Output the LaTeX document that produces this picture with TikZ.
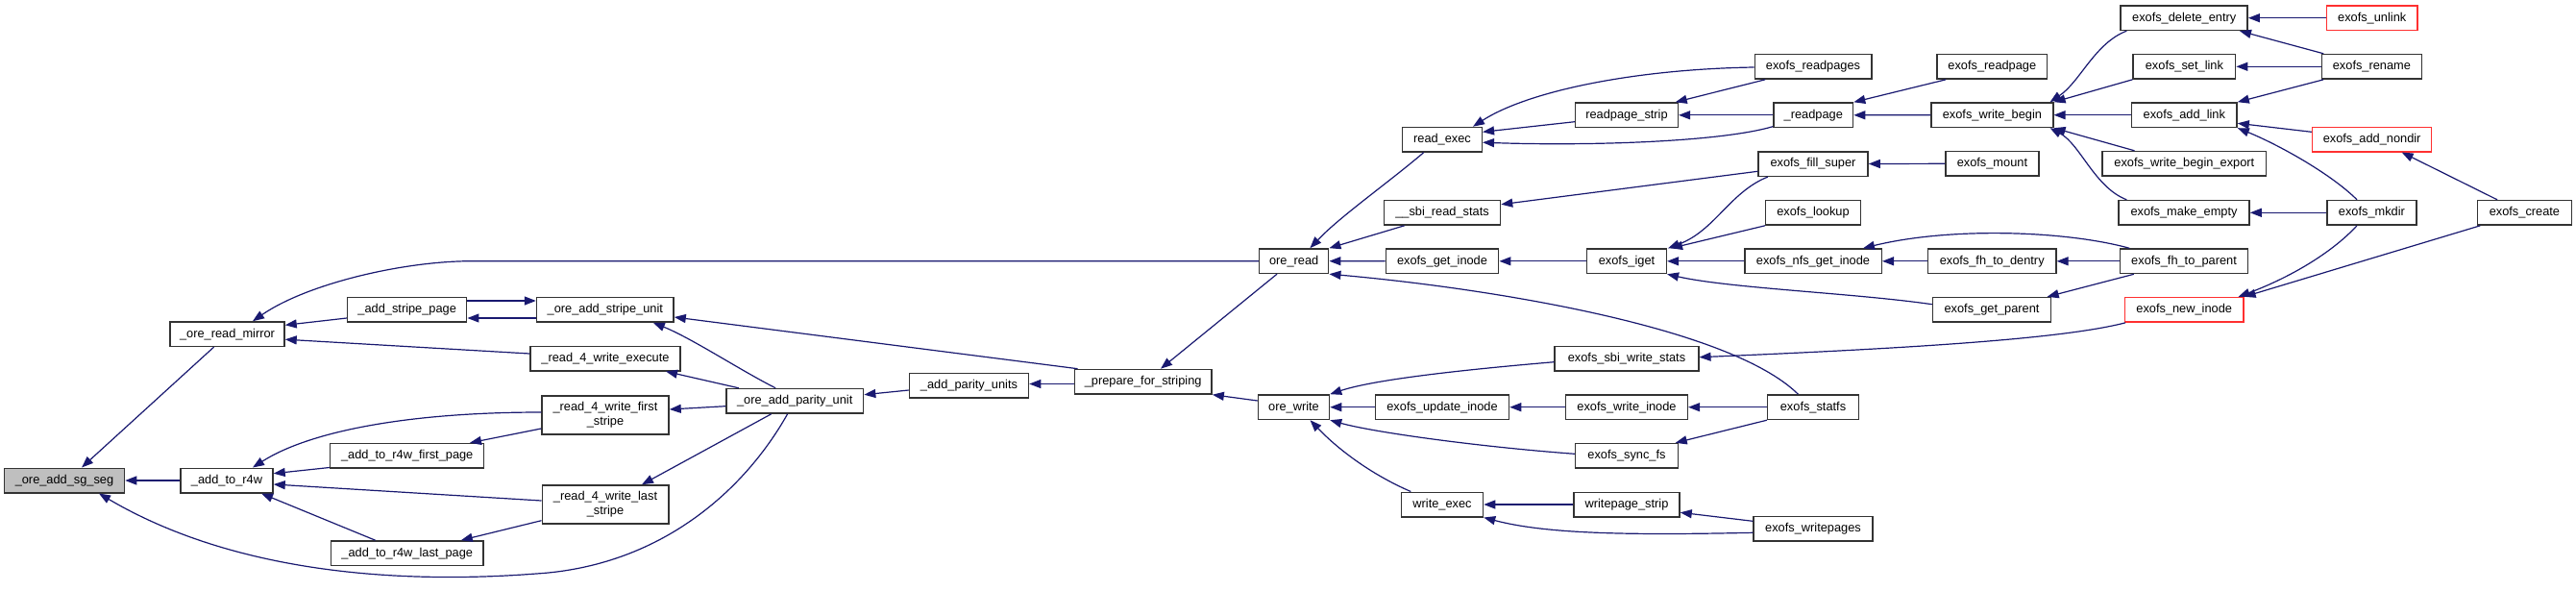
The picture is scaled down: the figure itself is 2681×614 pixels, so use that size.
\documentclass[tikz,border=0pt]{standalone}
\usepackage{fontspec}
\setmainfont{Liberation Sans}
\usetikzlibrary{arrows.meta}
\definecolor{edgeblue}{HTML}{191970}
\definecolor{rootgray}{HTML}{BFBFBF}
\definecolor{truncred}{HTML}{FF3030}
\definecolor{boxgray}{HTML}{333333}
\tikzset{
  fn/.style={draw=boxgray, line width=1.5pt, fill=white, minimum height=25.5pt, inner sep=0pt,
     font=\fontsize{12.8}{15}\selectfont, align=center},
  rootfn/.style={fn, fill=rootgray},
  truncfn/.style={fn, draw=truncred},
  e/.style={draw=edgeblue, line width=1.2pt, -{Triangle[length=12pt,width=9pt]}},
}
\begin{document}
\begin{tikzpicture}[x=1pt,y=-1pt]
\fill[white] (0,0) rectangle (2681,614);
\useasboundingbox (0,0) rectangle (2681,614);
% nodes
\node[rootfn, minimum width=125pt] (sg) at (67,500) {\_ore\_add\_sg\_seg};
\node[fn, minimum width=119pt] (mirror) at (236.5,347.7) {\_ore\_read\_mirror};
\node[fn, minimum width=96pt] (rw) at (236,500) {\_add\_to\_r4w};
\node[fn, minimum width=124pt] (sp) at (423.7,322.3) {\_add\_stripe\_page};
\node[fn, minimum width=142.5pt] (su) at (629.8,322.3) {\_ore\_add\_stripe\_unit};
\node[fn, minimum width=156pt] (ex) at (630,373) {\_read\_4\_write\_execute};
\node[fn, minimum width=132pt, minimum height=40pt] (fs) at (630,432) {\_read\_4\_write\_first\\\_stripe};
\node[fn, minimum width=160pt] (fp) at (423.7,474.3) {\_add\_to\_r4w\_first\_page};
\node[fn, minimum width=131.5pt, minimum height=40pt] (ls) at (630,525) {\_read\_4\_write\_last\\\_stripe};
\node[fn, minimum width=158.4pt] (lp) at (423.8,575.7) {\_add\_to\_r4w\_last\_page};
\node[fn, minimum width=142.8pt] (pu) at (827.2,417.3) {\_ore\_add\_parity\_unit};
\node[fn, minimum width=124pt] (pus) at (1008.5,401.2) {\_add\_parity\_units};
\node[fn, minimum width=142.8pt] (pr) at (1189.7,397.2) {\_prepare\_for\_striping};
\node[fn, minimum width=72pt] (ord) at (1346.7,271.7) {ore\_read};
\node[fn, minimum width=74pt] (owr) at (1346.5,423.7) {ore\_write};
\node[fn, minimum width=82.6pt] (rex) at (1501,145.2) {read\_exec};
\node[fn, minimum width=106.7pt] (rps) at (1693,119.8) {readpage\_strip};
\node[fn, minimum width=121.5pt] (erps) at (1887,69.3) {exofs\_readpages};
\node[fn, minimum width=82.5pt] (rp) at (1887.3,119.8) {\_readpage};
\node[fn, minimum width=121pt] (srs) at (1501,221.3) {\_\_sbi\_read\_stats};
\node[fn, minimum width=117.4pt] (gi) at (1501,271.8) {exofs\_get\_inode};
\node[fn, minimum width=82.6pt] (ig) at (1693,271.8) {exofs\_iget};
\node[fn, minimum width=114pt] (fsu) at (1887,170.5) {exofs\_fill\_super};
\node[fn, minimum width=98.6pt] (lk) at (1887,221.3) {exofs\_lookup};
\node[fn, minimum width=142.5pt] (ngi) at (1887,271.8) {exofs\_nfs\_get\_inode};
\node[fn, minimum width=123pt] (gp) at (2073,322.3) {exofs\_get\_parent};
\node[fn, minimum width=149.6pt] (sws) at (1693,373.3) {exofs\_sbi\_write\_stats};
\node[fn, minimum width=139pt] (ui) at (1501,423.7) {exofs\_update\_inode};
\node[fn, minimum width=126.7pt] (wi) at (1693,423.7) {exofs\_write\_inode};
\node[fn, minimum width=94.6pt] (stf) at (1887,423.7) {exofs\_statfs};
\node[fn, minimum width=106.7pt] (sf) at (1693,474.3) {exofs\_sync\_fs};
\node[fn, minimum width=85pt] (wex) at (1501,525) {write\_exec};
\node[fn, minimum width=110pt] (wps) at (1693,525) {writepage\_strip};
\node[fn, minimum width=124pt] (ewps) at (1887,550.3) {exofs\_writepages};
\node[fn, minimum width=114.7pt] (erp) at (2073.3,69.3) {exofs\_readpage};
\node[fn, minimum width=126.8pt] (wb) at (2073.4,119.7) {exofs\_write\_begin};
\node[fn, minimum width=97pt] (mt) at (2073.4,170.3) {exofs\_mount};
\node[fn, minimum width=132pt] (de) at (2273.2,18.7) {exofs\_delete\_entry};
\node[fn, minimum width=106.4pt] (sl) at (2273.4,69.3) {exofs\_set\_link};
\node[fn, minimum width=109.5pt] (al) at (2273.3,119.7) {exofs\_add\_link};
\node[fn, minimum width=170.7pt] (wbe) at (2273.3,170.3) {exofs\_write\_begin\_export};
\node[fn, minimum width=136pt] (me) at (2273,221.3) {exofs\_make\_empty};
\node[fn, minimum width=133.3pt] (ftd) at (2073.2,271.8) {exofs\_fh\_to\_dentry};
\node[fn, minimum width=133.3pt] (ftp) at (2273,271.8) {exofs\_fh\_to\_parent};
\node[truncfn, minimum width=123.3pt] (ni) at (2273.2,322.3) {exofs\_new\_inode};
\node[truncfn, minimum width=94.7pt] (ul) at (2468.7,18.7) {exofs\_unlink};
\node[fn, minimum width=103.8pt] (rn) at (2468.4,69.3) {exofs\_rename};
\node[truncfn, minimum width=124.2pt] (an) at (2468.6,145) {exofs\_add\_nondir};
\node[fn, minimum width=93.3pt] (mk) at (2468.4,221.3) {exofs\_mkdir};
\node[fn, minimum width=97.7pt] (cr) at (2627.4,221.3) {exofs\_create};
% edges (caller -> callee)
\draw[e] ([xshift=-14pt]mirror.south) -- ([xshift=18pt]sg.north);
\draw[e] (rw.west) -- (sg.east);
\draw[e] ([xshift=-7.6pt]pu.south) .. controls (775,510) and (688,589) .. (558,597) .. controls (428,607) and (250,600) .. ([xshift=36pt]sg.south);
\draw[e] (ord.west) -- (491,271.7) .. controls (420,271.7) and (320,295) .. ([xshift=26.5pt]mirror.north);
\draw[e] ([yshift=-8.7pt]sp.west) -- ([yshift=9.4pt]mirror.east);
\draw[e] ([yshift=5pt]ex.west) -- ([yshift=-5.5pt]mirror.east);
\draw[e] ([yshift=-8.7pt]su.west) -- ([yshift=-8.7pt]sp.east);
\draw[e] ([yshift=9.3pt]sp.east) -- ([yshift=9.3pt]su.west);
\draw[e] ([xshift=-20pt]pu.north) .. controls (770,385) and (720,352) .. ([xshift=50pt]su.south);
\draw[e] ([xshift=4pt]pr.north west) -- ([yshift=-7.7pt]su.east);
\draw[e] ([xshift=13.8pt]pu.north west) -- ([xshift=63pt]ex.south);
\draw[e] ([yshift=-5.4pt]pu.west) -- ([yshift=6pt]fs.east);
\draw[e] ([xshift=-24.5pt]pu.south) -- ([xshift=38pt]ls.north);
\draw[e] ([yshift=-4.8pt]pus.west) -- ([yshift=6.6pt]pu.east);
\draw[e] ([yshift=-2.3pt]pr.west) -- ([yshift=1.7pt]pus.east);
\draw[e] ([xshift=-17.7pt]ord.south) -- ([xshift=18.3pt]pr.north);
\draw[e] ([yshift=6.7pt]owr.west) -- (pr.south east);
\draw[e] ([yshift=3pt]fs.west) .. controls (420,429) and (320,450) .. ([xshift=27pt]rw.north);
\draw[e] ([yshift=1.3pt]fp.south west) -- ([yshift=7.3pt]rw.east);
\draw[e] ([yshift=4pt]ls.west) -- ([yshift=-4pt]rw.east);
\draw[e] ([xshift=-33.2pt]lp.north) -- ([xshift=36pt]rw.south);
\draw[e] ([yshift=-14pt]fs.west) -- ([xshift=65.3pt]fp.north);
\draw[e] ([yshift=-16.7pt]ls.west) -- ([xshift=56pt]lp.north);
\draw[e] ([xshift=-19.3pt]rex.south) .. controls (1445,190) and (1395,225) .. ([xshift=16.7pt]ord.north);
\draw[e] ([xshift=-39.4pt]srs.south) -- (ord.north east);
\draw[e] (gi.west) -- (ord.east);
\draw[e] ([xshift=-15.6pt]stf.north) .. controls (1800,340) and (1550,300) .. (ord.south east);
\draw[e] ([yshift=-0.7pt]erps.west) .. controls (1700,72) and (1590,95) .. ([xshift=32pt]rex.north);
\draw[e] ([yshift=-6.9pt]rps.west) -- ([yshift=7.9pt]rex.east);
\draw[e] ([yshift=1.7pt]rp.south west) .. controls (1790,148) and (1650,152) .. ([yshift=-3pt]rex.east);
\draw[e] ([xshift=11.7pt]erps.south west) -- ([xshift=-3.4pt]rps.north east);
\draw[e] (rp.west) -- (rps.east);
\draw[e] ([xshift=10pt]erp.south west) -- (rp.north east);
\draw[e] (wb.west) -- (rp.east);
\draw[e] ([yshift=-7.8pt]fsu.west) -- ([yshift=8.6pt]srs.east);
\draw[e] (mt.west) -- (fsu.east);
\draw[e] ([xshift=10.7pt]fsu.south west) .. controls (1800,200) and (1785,240) .. ([xshift=1pt]ig.north east);
\draw[e] (lk.south west) -- ([xshift=4pt]ig.north east);
\draw[e] (ngi.west) -- (ig.east);
\draw[e] ([yshift=5.6pt]gp.west) .. controls (1930,305) and (1800,300) .. (ig.south east);
\draw[e] (ig.west) -- (gi.east);
\draw[e] (ftd.west) -- (ngi.east);
\draw[e] ([xshift=10.7pt]ftp.north west) .. controls (2150,240) and (2030,236) .. ([xshift=52pt]ngi.north);
\draw[e] (ftp.west) -- (ftd.east);
\draw[e] ([xshift=15.2pt]ftp.south west) -- ([xshift=-4.6pt]gp.north east);
\draw[e] ([yshift=-3.4pt]sws.west) .. controls (1520,385) and (1430,395) .. (owr.north east);
\draw[e] (ui.west) -- (owr.east);
\draw[e] ([yshift=2pt]sf.west) .. controls (1540,465) and (1430,450) .. (owr.south east);
\draw[e] ([xshift=-32.7pt]wex.north) .. controls (1430,495) and (1395,470) .. ([xshift=17pt]owr.south);
\draw[e] (wi.west) -- (ui.east);
\draw[e] (stf.west) -- (wi.east);
\draw[e] (stf.south west) -- ([xshift=-3.4pt]sf.north east);
\draw[e] ([xshift=1.3pt]ni.south west) .. controls (2150,352) and (2000,362) .. ([yshift=1.6pt]sws.east);
\draw[e] (wps.west) -- (wex.east);
\draw[e] ([yshift=8pt]ewps.west) -- ([yshift=-8.3pt]wps.east);
\draw[e] ([yshift=-4pt]ewps.west) .. controls (1700,557) and (1610,556) .. (wex.south east);
\draw[e] ([xshift=6.8pt]de.south west) .. controls (2180,45) and (2165,85) .. ([xshift=-4pt]wb.north east);
\draw[e] (sl.south west) -- (wb.north east);
\draw[e] (al.west) -- (wb.east);
\draw[e] ([xshift=-51.8pt]wbe.north) -- (wb.south east);
\draw[e] ([xshift=9pt]me.north west) .. controls (2180,195) and (2165,150) .. ([xshift=-4pt]wb.south east);
\draw[e] (ul.west) -- (de.east);
\draw[e] ([xshift=2.5pt]rn.north west) -- ([xshift=-9pt]de.south east);
\draw[e] (rn.west) -- (sl.east);
\draw[e] ([xshift=2.5pt]rn.south west) -- (al.north east);
\draw[e] ([yshift=7.7pt]an.west) -- ([yshift=-8.6pt]al.east);
\draw[e] ([xshift=-15.4pt]mk.north) .. controls (2425,180) and (2370,150) .. (al.south east);
\draw[e] (mk.west) -- (me.east);
\draw[e] ([xshift=-28.4pt]cr.north) -- ([xshift=31pt]an.south);
\draw[e] ([xshift=-15.4pt]mk.south) .. controls (2425,265) and (2380,290) .. ([xshift=-6pt]ni.north east);
\draw[e] ([xshift=3.5pt]cr.south west) -- (ni.north east);
\end{tikzpicture}
\end{document}
